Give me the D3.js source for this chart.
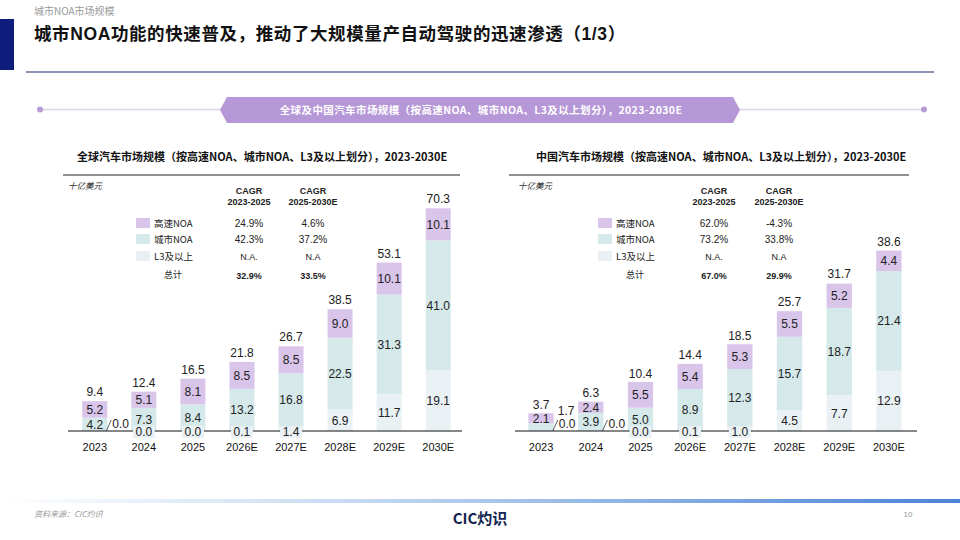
<!DOCTYPE html>
<html>
<head>
<meta charset="utf-8">
<script src="https://cdn.jsdelivr.net/npm/d3@7"></script>
<style>
  body { margin: 0; background: #fff; }
  svg { display: block; font-family: "Liberation Sans", Arial, "Noto Sans CJK SC", sans-serif; }
  .cjk { font-family: "Noto Sans CJK SC", "Liberation Sans", sans-serif; }
</style>
</head>
<body>
<div id="chart"></div>
<script>
// Chart data

var years = ["2023", "2024", "2025", "2026E", "2027E", "2028E", "2029E", "2030E"];
var seriesNames = ["L3及以上", "城市NOA", "高速NOA"];
var seriesKeys = ["l3", "city", "highway"];

// global market, US$ bn
var globalL3 = [0.0, 0.0, 0.0, 0.1, 1.4, 6.9, 11.7, 19.1];
var globalCity = [4.2, 7.3, 8.4, 13.2, 16.8, 22.5, 31.3, 41.0];
var globalHighway = [5.2, 5.1, 8.1, 8.5, 8.5, 9.0, 10.1, 10.1];
var globalTotal = [9.4, 12.4, 16.5, 21.8, 26.7, 38.5, 53.1, 70.3];
var globalCagr1 = ["24.9%", "42.3%", "N.A.", "32.9%"];
var globalCagr2 = ["4.6%", "37.2%", "N.A", "33.5%"];

// China market, US$ bn
var chinaL3 = [0.0, 0.0, 0.0, 0.1, 1.0, 4.5, 7.7, 12.9];
var chinaCity = [1.7, 3.9, 5.0, 8.9, 12.3, 15.7, 18.7, 21.4];
var chinaHighway = [2.1, 2.4, 5.5, 5.4, 5.3, 5.5, 5.2, 4.4];
var chinaTotal = [3.7, 6.3, 10.4, 14.4, 18.5, 25.7, 31.7, 38.6];
var chinaCagr1 = ["62.0%", "73.2%", "N.A.", "67.0%"];
var chinaCagr2 = ["-4.3%", "33.8%", "N.A", "29.9%"];

var colors = { l3: "#e9f1f5", city: "#d5e9eb", highway: "#d9c4ea" };

var W = 960, H = 540;

var svg = d3.select("#chart").append("svg")
    .attr("width", W)
    .attr("height", H);

// ---- page header ----
svg.append("text").attr("class", "cjk")
    .attr("x", 34).attr("y", 15)
    .style("font-size", "10px").style("fill", "#9a9a9a")
    .text("城市NOA市场规模");

svg.append("rect").attr("x", 0).attr("y", 19).attr("width", 14).attr("height", 51).style("fill", "#0e1c7c");

var title = svg.append("text")
    .attr("x", 34).attr("y", 40)
    .style("font-size", "17.5px").style("font-weight", "bold").style("fill", "#111")
    .style("letter-spacing", "0.6px");
title.append("tspan").attr("class", "cjk").text("城市");
title.append("tspan").text("NOA");
title.append("tspan").attr("class", "cjk").text("功能的快速普及，推动了大规模量产自动驾驶的迅速渗透（");
title.append("tspan").text("1/3");
title.append("tspan").attr("class", "cjk").text("）");

svg.append("line").attr("x1", 26).attr("x2", 934).attr("y1", 72).attr("y2", 72)
    .style("stroke", "#1a2a6c").style("stroke-width", 1.2);

// banner
svg.append("line").attr("x1", 40).attr("x2", 924).attr("y1", 109.5).attr("y2", 109.5)
    .style("stroke", "#ddd3e8").style("stroke-width", 1.5);
svg.selectAll(".dot").data([40, 924]).enter().append("circle")
    .attr("cx", function(d) { return d; }).attr("cy", 109.5).attr("r", 3)
    .style("fill", "#b99bd6");
svg.append("polygon")
    .attr("points", "227,97 733,97 740,110 733,123 227,123 220,110")
    .style("fill", "#b697d7");
svg.append("text").attr("class", "cjk")
    .attr("x", 481).attr("y", 114).attr("text-anchor", "middle")
    .style("font-size", "10.5px").style("font-weight", "bold").style("fill", "#fff")
    .style("letter-spacing", "0.4px")
    .text("全球及中国汽车市场规模（按高速NOA、城市NOA、L3及以上划分），2023-2030E");

// ---- footer ----
var grad = svg.append("defs").append("linearGradient").attr("id", "footGrad");
grad.append("stop").attr("offset", "0%").attr("stop-color", "#ffffff");
grad.append("stop").attr("offset", "35%").attr("stop-color", "#c9dcf2");
grad.append("stop").attr("offset", "100%").attr("stop-color", "#4a84d6");
svg.append("rect").attr("x", 0).attr("y", 499).attr("width", W).attr("height", 4).style("fill", "url(#footGrad)");

svg.append("text").attr("class", "cjk")
    .attr("x", 34).attr("y", 517)
    .style("font-size", "8px").style("font-style", "italic").style("fill", "#999")
    .text("资料来源：CIC灼识");
svg.append("text").attr("class", "cjk")
    .attr("x", 480).attr("y", 524).attr("text-anchor", "middle")
    .style("font-size", "15px").style("font-weight", "bold").style("fill", "#13254f")
    .text("CIC灼识");
svg.append("text")
    .attr("x", 908).attr("y", 517).attr("text-anchor", "middle")
    .style("font-size", "8px").style("fill", "#999")
    .text("10");

// ---- one stacked bar panel ----
function drawPanel(cfg) {
  var g = svg.append("g");

  // panel title + rule
  g.append("text").attr("class", "cjk")
      .attr("x", cfg.titleX).attr("y", 161)
      .style("font-size", "11px").style("font-weight", "bold").style("fill", "#111")
      .text(cfg.title);
  g.append("line").attr("x1", cfg.ruleX1).attr("x2", cfg.ruleX2).attr("y1", 175).attr("y2", 175)
      .style("stroke", "#222").style("stroke-width", 1);

  g.append("text").attr("class", "cjk")
      .attr("x", cfg.unitX).attr("y", 189)
      .style("font-size", "8.5px").style("font-style", "italic").style("fill", "#333")
      .text("十亿美元");

  // CAGR table
  [cfg.col1, cfg.col2].forEach(function(cx, i) {
    g.append("text").attr("x", cx).attr("y", 194).attr("text-anchor", "middle")
        .style("font-size", "9px").style("font-weight", "bold").style("fill", "#222").text("CAGR");
    g.append("text").attr("x", cx).attr("y", 205).attr("text-anchor", "middle")
        .style("font-size", "9px").style("font-weight", "bold").style("fill", "#222")
        .text(i == 0 ? "2023-2025" : "2025-2030E");
  });

  var legendOrder = ["highway", "city", "l3"];
  var legendNames = ["高速NOA", "城市NOA", "L3及以上"];
  var rowY = [223, 239, 256, 275];
  legendOrder.forEach(function(k, i) {
    g.append("rect").attr("x", cfg.legendX).attr("y", rowY[i] - 5).attr("width", 14).attr("height", 10)
        .style("fill", colors[k]);
    g.append("text").attr("class", "cjk")
        .attr("x", cfg.legendX + 18).attr("y", rowY[i] + 4)
        .style("font-size", "9.5px").style("fill", "#222").text(legendNames[i]);
  });
  g.append("text").attr("class", "cjk")
      .attr("x", cfg.legendX + 28).attr("y", rowY[3] + 3)
      .style("font-size", "9px").style("fill", "#222").text("总计");

  rowY.forEach(function(y, i) {
    [[cfg.col1, cfg.cagr1], [cfg.col2, cfg.cagr2]].forEach(function(c) {
      g.append("text").attr("x", c[0]).attr("y", y + 4).attr("text-anchor", "middle")
          .style("font-size", i >= 2 ? "9px" : "10px")
          .style("font-weight", i == 3 ? "bold" : "normal")
          .style("fill", "#222").text(c[1][i]);
    });
  });

  // bars
  var rows = years.map(function(y, i) {
    return { year: y, l3: cfg.l3[i], city: cfg.city[i], highway: cfg.highway[i], total: cfg.total[i], idx: i };
  });

  var x = d3.scaleBand().domain(years).range([cfg.x0, cfg.x1]).paddingInner(0.49).paddingOuter(0.25);
  var y = d3.scaleLinear().domain([0, cfg.yMax]).range([cfg.base, cfg.top]);

  var stacked = d3.stack().keys(seriesKeys)(rows);

  var layers = g.selectAll(".layer").data(stacked).enter().append("g")
      .attr("class", "layer")
      .style("fill", function(d) { return colors[d.key]; });

  layers.selectAll("rect").data(function(d) { return d; }).enter().append("rect")
      .attr("x", function(d) { return x(d.data.year); })
      .attr("width", x.bandwidth())
      .attr("y", function(d) { return y(d[1]); })
      .attr("height", function(d) { return y(d[0]) - y(d[1]); });

  // axis
  var axis = g.append("g")
      .attr("transform", "translate(0," + cfg.base + ")")
      .call(d3.axisBottom(x).tickSize(0).tickPadding(12));
  axis.select(".domain").remove();
  g.append("line").attr("x1", cfg.axisX1).attr("x2", cfg.axisX2).attr("y1", cfg.base).attr("y2", cfg.base)
      .style("stroke", "#111").style("stroke-width", 1);
  axis.selectAll("text")
      .style("font-family", "'Liberation Sans', Arial, sans-serif")
      .style("font-size", "11px").style("fill", "#111");

  // segment labels
  stacked.forEach(function(layer) {
    layer.forEach(function(d) {
      var v = d.data[layer.key];
      var cx = x(d.data.year) + x.bandwidth() / 2;
      var out = cfg.outside[layer.key] && cfg.outside[layer.key].indexOf(d.data.idx) >= 0;
      var label = v.toFixed(1);
      if (out) {
        // label beside the bar with a short leader
        var bx = x(d.data.year) + x.bandwidth();
        if (layer.key == "l3") {
          g.append("line").attr("x1", bx - 1).attr("y1", cfg.base).attr("x2", bx + 4).attr("y2", cfg.base - 11)
              .style("stroke", "#333").style("stroke-width", 0.8);
          g.append("text").attr("x", bx + 5).attr("y", cfg.base - 3)
              .style("font-size", "12px").style("fill", "#222").text(label);
        } else {
          g.append("text").attr("x", bx + 4).attr("y", cfg.base - 16)
              .style("font-size", "12px").style("fill", "#222").text(label);
        }
      } else if (layer.key == "l3" && v < 2) {
        // tiny bottom segment: boxed label sitting on the axis
        g.append("rect").attr("x", cx - 11).attr("y", cfg.base - 5).attr("width", 22).attr("height", 12)
            .style("fill", colors.l3);
        g.append("text").attr("x", cx).attr("y", cfg.base + 5).attr("text-anchor", "middle")
            .style("font-size", "12px").style("fill", "#222").text(label);
      } else {
        g.append("text").attr("x", cx).attr("y", (y(d[0]) + y(d[1])) / 2 + 4.5).attr("text-anchor", "middle")
            .style("font-size", "12px").style("fill", "#222").text(label);
      }
    });
  });

  // totals
  g.selectAll(".total").data(rows).enter().append("text")
      .attr("class", "total")
      .attr("x", function(d) { return x(d.year) + x.bandwidth() / 2; })
      .attr("y", function(d) { return y(d.total) - 5; })
      .attr("text-anchor", "middle")
      .style("font-size", "12px").style("fill", "#222")
      .text(function(d) { return d.total.toFixed(1); });
}

drawPanel({
  title: "全球汽车市场规模（按高速NOA、城市NOA、L3及以上划分），2023-2030E",
  titleX: 77, ruleX1: 63, ruleX2: 460, unitX: 68,
  col1: 249, col2: 313, legendX: 136,
  cagr1: globalCagr1, cagr2: globalCagr2,
  l3: globalL3, city: globalCity, highway: globalHighway, total: globalTotal,
  x0: 70, x1: 463, axisX1: 68, axisX2: 462, base: 431, top: 208, yMax: 70.3,
  outside: { l3: [0] }
});

drawPanel({
  title: "中国汽车市场规模（按高速NOA、城市NOA、L3及以上划分），2023-2030E",
  titleX: 536, ruleX1: 509, ruleX2: 909, unitX: 518,
  col1: 714, col2: 779, legendX: 598,
  cagr1: chinaCagr1, cagr2: chinaCagr2,
  l3: chinaL3, city: chinaCity, highway: chinaHighway, total: chinaTotal,
  x0: 516, x1: 914, axisX1: 515, axisX2: 917, base: 431, top: 251, yMax: 38.6,
  outside: { l3: [0, 1], city: [0] }
});
</script>
</body>
</html>
